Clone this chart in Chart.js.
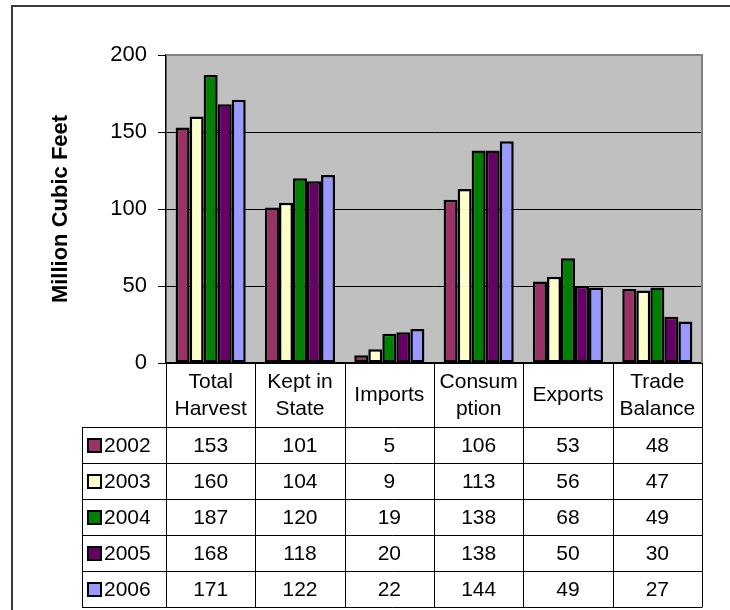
<!DOCTYPE html>
<html>
<head>
<meta charset="utf-8">
<script src="https://cdn.jsdelivr.net/npm/chart.js@4/dist/chart.umd.min.js"></script>
<style>
  html, body { margin: 0; padding: 0; background: #ffffff; }
  #wrap { width: 730px; height: 610px; position: relative; }
</style>
</head>
<body>
<div id="wrap"><canvas id="c" width="730" height="610"></canvas></div>
<script>
// ---- data ----
const categories = [['Total', 'Harvest'], ['Kept in', 'State'], ['Imports'], ['Consum', 'ption'], ['Exports'], ['Trade', 'Balance']];
const years = ['2002', '2003', '2004', '2005', '2006'];
const values2002 = [153, 101, 5, 106, 53, 48];
const values2003 = [160, 104, 9, 113, 56, 47];
const values2004 = [187, 120, 19, 138, 68, 49];
const values2005 = [168, 118, 20, 138, 50, 30];
const values2006 = [171, 122, 22, 144, 49, 27];
const yTickValues = [0, 50, 100, 150, 200];
const yAxisTitle = 'Million Cubic Feet';

// ---- styles ----
const seriesColors = ['#993366', '#FFFFCC', '#008000', '#660066', '#9999FF'];
const seriesValues = [values2002, values2003, values2004, values2005, values2006];
const FONT = 'Arial, "Liberation Sans", sans-serif';

const datasets = years.map((y, i) => ({
  label: y,
  data: seriesValues[i],
  backgroundColor: seriesColors[i],
  borderColor: '#000000',
  borderWidth: 2.5,
  borderSkipped: false,
  categoryPercentage: 0.785,
  barPercentage: 1.0
}));

const decorPlugin = {
  id: 'decor',
  beforeDraw(chart) {
    const { ctx, chartArea: a } = chart;
    ctx.save();
    ctx.fillStyle = '#C0C0C0';
    ctx.fillRect(a.left, a.top, a.right - a.left, a.bottom - a.top);
    // outer frame (top and left)
    ctx.strokeStyle = '#3a3a3a';
    ctx.lineWidth = 2;
    ctx.beginPath();
    ctx.moveTo(12, 610);
    ctx.lineTo(12, 6);
    ctx.lineTo(730, 6);
    ctx.stroke();
    ctx.restore();
  },
  afterDraw(chart) {
    const { ctx, chartArea: a } = chart;
    const xs = chart.scales.x;
    ctx.save();
    // plot border top/right
    ctx.strokeStyle = '#808080';
    ctx.lineWidth = 2;
    ctx.beginPath();
    ctx.moveTo(a.left, a.top);
    ctx.lineTo(a.right, a.top);
    ctx.lineTo(a.right, a.bottom);
    ctx.stroke();

    // ---- data table ----
    const n = categories.length;
    const cw = (a.right - a.left) / n;
    const headerBottom = a.bottom + 64;
    const rowH = 36;
    const tableBottom = headerBottom + rowH * years.length;
    const legLeft = 82;

    ctx.strokeStyle = '#000000';
    ctx.lineWidth = 1;
    ctx.beginPath();
    for (let i = 0; i <= n; i++) {
      const x = Math.round(a.left + cw * i) + 0.5;
      ctx.moveTo(x, a.bottom);
      ctx.lineTo(x, tableBottom);
    }
    ctx.moveTo(legLeft + 0.5, headerBottom);
    ctx.lineTo(legLeft + 0.5, tableBottom);
    for (let r = 0; r <= years.length; r++) {
      const y = Math.round(headerBottom + rowH * r) + 0.5;
      ctx.moveTo(legLeft, y);
      ctx.lineTo(a.right + 0.5, y);
    }
    ctx.stroke();

    ctx.fillStyle = '#000000';
    ctx.font = '21px ' + FONT;
    ctx.textAlign = 'center';
    ctx.textBaseline = 'middle';
    categories.forEach((lab, i) => {
      const cx = xs.getPixelForValue(i);
      if (lab.length === 1) {
        ctx.fillText(lab[0], cx, a.bottom + 32);
      } else {
        ctx.fillText(lab[0], cx, a.bottom + 19);
        ctx.fillText(lab[1], cx, a.bottom + 46);
      }
    });
    years.forEach((yr, r) => {
      const cy = headerBottom + rowH * r + rowH / 2 + 1;
      ctx.fillStyle = seriesColors[r];
      ctx.fillRect(88, cy - 7, 13, 13);
      ctx.strokeStyle = '#000000';
      ctx.lineWidth = 2;
      ctx.strokeRect(88, cy - 7, 13, 13);
      ctx.fillStyle = '#000000';
      ctx.textAlign = 'left';
      ctx.fillText(yr, 104, cy);
      ctx.textAlign = 'center';
      seriesValues[r].forEach((v, i) => {
        ctx.fillText(String(v), xs.getPixelForValue(i), cy);
      });
    });
    ctx.restore();
  }
};

new Chart(document.getElementById('c'), {
  type: 'bar',
  data: { labels: categories.map(c => c.join(' ')), datasets },
  options: {
    responsive: false,
    animation: false,
    layout: { padding: { top: 55, right: 28, bottom: 247, left: 0 } },
    plugins: { legend: { display: false }, tooltip: { enabled: false } },
    scales: {
      x: {
        grid: { display: false, drawTicks: false },
        ticks: { display: false },
        border: { display: true, color: '#000000', width: 1.5 },
        afterFit(s) { s.height = 0; }
      },
      y: {
        min: 0,
        max: 200,
        afterBuildTicks(s) { s.ticks = yTickValues.map(v => ({ value: v })); },
        ticks: { color: '#000000', font: { family: FONT, size: 22 }, padding: 11 },
        grid: {
          color: c => (c.tick && c.tick.value === 200) ? 'rgba(0,0,0,0)' : '#000000',
          tickColor: '#000000',
          tickLength: 8,
          lineWidth: 1
        },
        border: { display: true, color: '#000000', width: 1.5 },
        title: {
          display: true,
          text: yAxisTitle,
          color: '#000000',
          font: { family: FONT, size: 22, weight: 'bold' },
          padding: { top: 48, bottom: 0 }
        },
        afterFit(s) { s.width = 166; }
      }
    }
  },
  plugins: [decorPlugin]
});
</script>
</body>
</html>
